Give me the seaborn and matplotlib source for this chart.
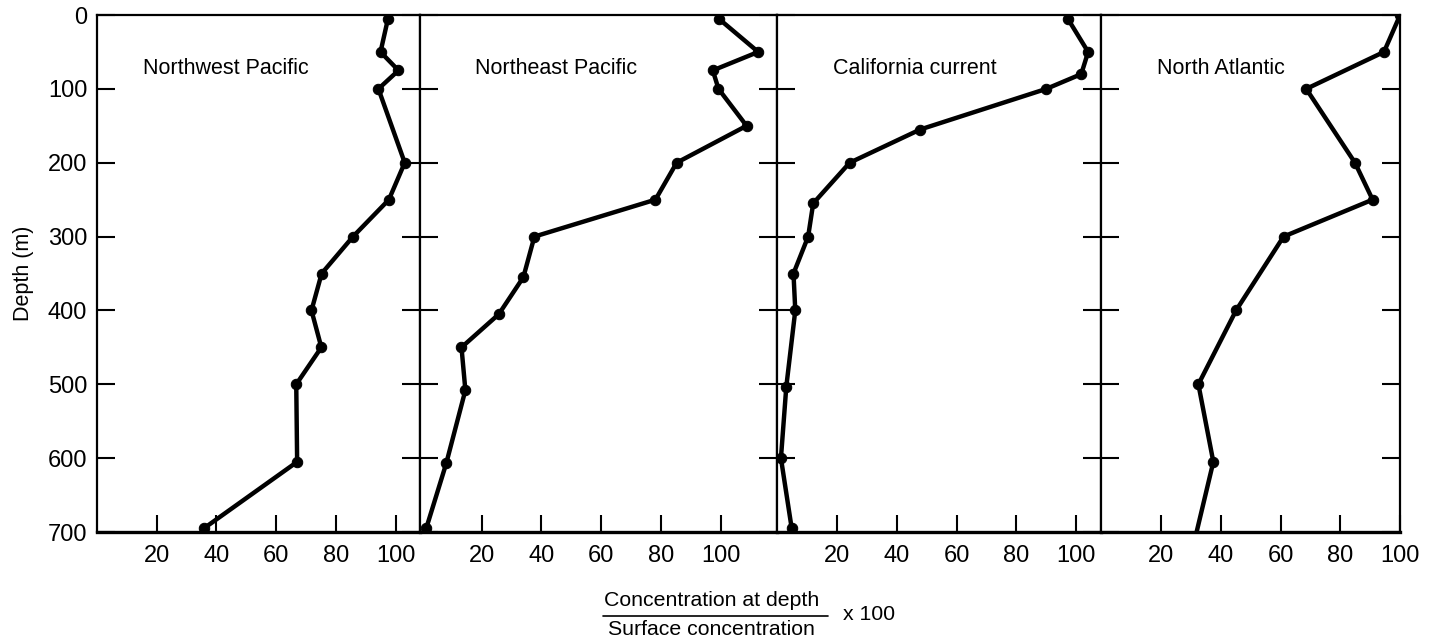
import matplotlib
matplotlib.use("Agg")
import matplotlib.pyplot as plt
import seaborn as sns
from matplotlib.lines import Line2D

# ---- data ----
panel_names = ["Northwest Pacific", "Northeast Pacific", "California current", "North Atlantic"]

nw_depth = [5, 50, 75, 100, 200, 250, 300, 350, 400, 450, 500, 605, 695]
nw_conc = [97.4, 94.9, 100.9, 94.2, 103.0, 97.7, 85.7, 75.2, 71.8, 75.1, 66.7, 67.0, 35.8]

ne_depth = [5, 50, 75, 100, 150, 200, 250, 300, 355, 405, 450, 508, 607, 695]
ne_conc = [99.4, 112.6, 97.4, 99.3, 108.7, 85.3, 78.2, 37.7, 34.0, 25.8, 13.3, 14.6, 8.2, 1.5]

ca_depth = [5, 50, 80, 100, 155, 200, 255, 300, 350, 400, 503, 600, 695]
ca_conc = [97.2, 104.0, 101.7, 90.0, 47.8, 24.2, 12.0, 10.3, 5.4, 6.0, 3.0, 1.2, 4.8]

na_depth = [0, 50, 100, 200, 250, 300, 400, 500, 605, 700]
na_conc = [100.0, 94.6, 68.6, 84.9, 90.8, 61.0, 45.1, 32.5, 37.5, 31.9]

depth_ticks = [0, 100, 200, 300, 400, 500, 600, 700]
conc_ticks = [20, 40, 60, 80, 100]

series = [(nw_conc, nw_depth), (ne_conc, ne_depth), (ca_conc, ca_depth), (na_conc, na_depth)]

# ---- style ----
sns.set_style("ticks")
plt.rcParams["font.family"] = ["Liberation Sans", "DejaVu Sans"]
for key in ["text.color", "axes.labelcolor", "axes.edgecolor", "xtick.color", "ytick.color"]:
    plt.rcParams[key] = "black"

xlims = [(0, 108), (-0.7, 119), (0, 108.4), (0, 100)]
widths = [b - a for a, b in xlims]
title_x = [15.3, 17.7, 18.7, 18.7]

fig = plt.figure(figsize=(14.36, 6.42), dpi=100)
gs = fig.add_gridspec(1, 4, width_ratios=widths, wspace=0,
                      left=0.0675, right=0.975, top=0.9766, bottom=0.1713)

for i, (conc, depth) in enumerate(series):
    ax = fig.add_subplot(gs[0, i])
    markevery = list(range(len(conc)))
    if i == 3:
        markevery = markevery[:-1]
    sns.lineplot(x=conc, y=depth, sort=False, estimator=None, ax=ax,
                 color="black", linewidth=3.2, marker="o", markersize=7.5,
                 markeredgecolor="black", markevery=markevery)
    ax.set_xlim(*xlims[i])
    ax.set_ylim(700, 0)
    ax.set_xticks(conc_ticks)
    ax.set_xticklabels([str(t) for t in conc_ticks])
    ax.set_yticks(depth_ticks)
    ax.tick_params(axis="y", left=True, right=True, direction="in",
                   length=13, width=1.5, labelsize=17, pad=7,
                   labelleft=(i == 0), colors="black")
    ax.tick_params(axis="x", bottom=True, direction="in", length=12,
                   width=1.5, labelsize=17, pad=9, colors="black")
    for side in ["top", "left", "right"]:
        ax.spines[side].set_linewidth(1.6)
        ax.spines[side].set_visible(True)
        ax.spines[side].set_color("black")
    ax.spines["bottom"].set_linewidth(2.4)
    ax.spines["bottom"].set_color("black")
    ax.set_xlabel("")
    if i == 0:
        ax.set_ylabel("Depth (m)", fontsize=15.5, labelpad=10, color="black")
    else:
        ax.set_ylabel("")
    ax.text(title_x[i], 73, panel_names[i], fontsize=15.5, ha="left", va="center",
            color="black")

# ---- bottom fraction label ----
fig.text(0.4955, 0.0654, "Concentration at depth", fontsize=15.3, ha="center", va="center")
fig.text(0.4955, 0.0187, "Surface concentration", fontsize=15.3, ha="center", va="center")
fig.add_artist(Line2D([0.42, 0.5766], [0.0405, 0.0405], transform=fig.transFigure,
                      color="black", linewidth=1.2))
fig.text(0.587, 0.0436, "x 100", fontsize=15.3, ha="left", va="center")

fig.savefig("out.png", dpi=100, facecolor="white")
